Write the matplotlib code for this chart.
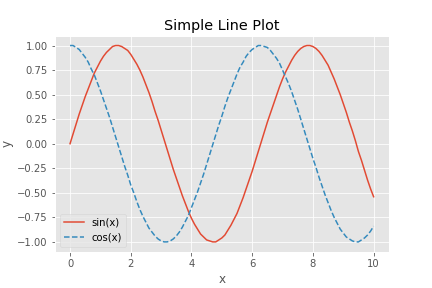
import matplotlib
matplotlib.use("Agg")
import matplotlib.pyplot as plt

# values (step 0.1)
x = [i / 10 for i in range(101)]
sin_vals = [0.00, 0.10, 0.20, 0.30, 0.39, 0.48, 0.56, 0.64, 0.72, 0.78,
            0.84, 0.89, 0.93, 0.96, 0.99, 1.00, 1.00, 0.99, 0.97, 0.95,
            0.91, 0.86, 0.81, 0.75, 0.68, 0.60, 0.52, 0.43, 0.33, 0.24,
            0.14, 0.04, -0.06, -0.16, -0.26, -0.35, -0.44, -0.53, -0.61, -0.69,
            -0.76, -0.82, -0.87, -0.92, -0.95, -0.98, -0.99, -1.00, -1.00, -0.98,
            -0.96, -0.93, -0.88, -0.83, -0.77, -0.71, -0.63, -0.55, -0.46, -0.37,
            -0.28, -0.18, -0.08, 0.02, 0.12, 0.22, 0.31, 0.40, 0.49, 0.58,
            0.66, 0.73, 0.79, 0.85, 0.90, 0.94, 0.97, 0.99, 1.00, 1.00,
            0.99, 0.97, 0.94, 0.90, 0.85, 0.80, 0.73, 0.66, 0.58, 0.50,
            0.41, 0.32, 0.22, 0.13, 0.03, -0.08, -0.17, -0.27, -0.37, -0.46,
            -0.54]
cos_vals = [1.00, 1.00, 0.98, 0.96, 0.92, 0.88, 0.83, 0.76, 0.70, 0.62,
            0.54, 0.45, 0.36, 0.27, 0.17, 0.07, -0.03, -0.13, -0.23, -0.32,
            -0.42, -0.50, -0.59, -0.67, -0.74, -0.80, -0.86, -0.90, -0.94, -0.97,
            -0.99, -1.00, -1.00, -0.99, -0.97, -0.94, -0.90, -0.85, -0.79, -0.73,
            -0.65, -0.57, -0.49, -0.40, -0.31, -0.21, -0.11, -0.01, 0.09, 0.19,
            0.28, 0.38, 0.47, 0.55, 0.63, 0.71, 0.78, 0.83, 0.89, 0.93,
            0.96, 0.98, 1.00, 1.00, 0.99, 0.98, 0.95, 0.91, 0.87, 0.82,
            0.75, 0.68, 0.61, 0.53, 0.44, 0.35, 0.25, 0.15, 0.05, -0.05,
            -0.15, -0.24, -0.34, -0.43, -0.52, -0.60, -0.68, -0.75, -0.81, -0.87,
            -0.91, -0.95, -0.97, -0.99, -1.00, -1.00, -0.98, -0.96, -0.93, -0.89,
            -0.84]

plt.style.use("ggplot")
fig, ax = plt.subplots(figsize=(6, 4), dpi=72)
fig.subplots_adjust(left=0.127, right=0.9, top=0.876, bottom=0.126)

ax.plot(x, sin_vals, label="sin(x)")
ax.plot(x, cos_vals, "--", label="cos(x)")
ax.set_title("Simple Line Plot")
ax.set_xlabel("x")
ax.set_ylabel("y")
ax.legend(loc="lower left")

fig.savefig("out.png")
